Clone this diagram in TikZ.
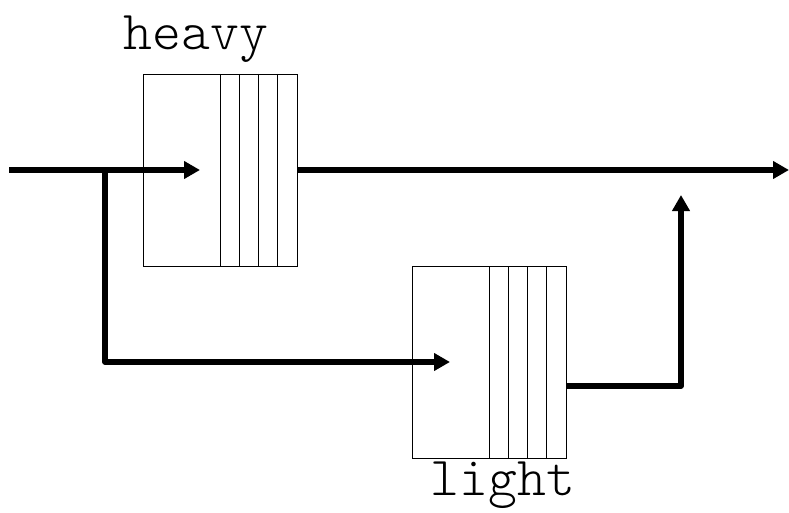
\documentclass[tikz,border=0pt]{standalone}
\usetikzlibrary{arrows.meta}
\tikzset{
  queue/.style={rectangle, draw, line width=0.8pt, minimum width=154pt, minimum height=192pt, inner sep=0pt, outer sep=0pt},
  flow/.style={line width=5.5pt, line join=round, -{Triangle[length=16pt,width=17pt]}},
  qlabel/.style={font=\fontsize{55}{60}\fontseries{l}\ttfamily\selectfont, anchor=base, inner sep=0pt}
}
\begin{document}
\begin{tikzpicture}[x=1pt, y=-1pt]
        \useasboundingbox (0,0) rectangle (789,513);
        \node[queue] (heavy) at (220,170) {};
        \node[queue] (light) at (489,362) {};
        \node[qlabel] (heavylabel) at (196,50) {heavy};
        \node[qlabel] (lightlabel) at (503,495) {light};

        % slots of each queue
        \foreach \q in {heavy,light}
            \foreach \dx in {77,96.25,115.5,134.75}
                \draw[line width=0.8pt] ([xshift=\dx pt]\q.north west) -- ([xshift=\dx pt]\q.south west);

        \coordinate (in) at (9,170);
        \coordinate (split) at (105,170);
        \coordinate (out) at (789,170);
        \coordinate (merge) at (681,195);

        \draw[flow] (in) -- ([xshift=-20pt]heavy.center);
        \draw[flow] (split) |- ([xshift=-39pt]light.center);
        \draw[flow] (heavy.east) -- (out);
        \draw[flow] ([yshift=-24pt]light.east) -| (merge);
\end{tikzpicture}
\end{document}
